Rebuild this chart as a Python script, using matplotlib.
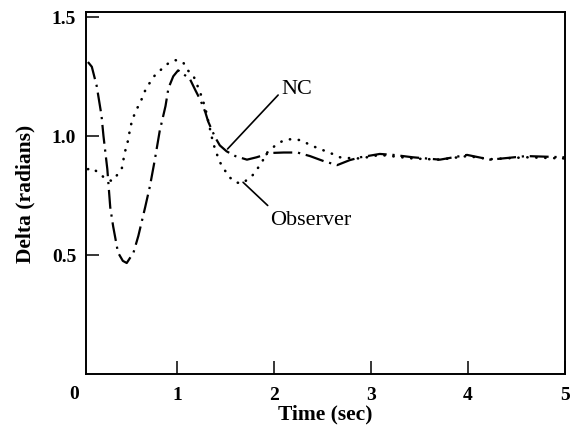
import matplotlib
matplotlib.use('Agg')
import matplotlib.pyplot as plt
import matplotlib.transforms as mtransforms

# Delta response, NC controller vs observer
t_nc = [0.08, 0.12, 0.17, 0.22, 0.24, 0.28, 0.31, 0.34, 0.39, 0.44, 0.48, 0.55,
        0.60, 0.67, 0.72, 0.77, 0.82, 0.88, 0.91, 0.96, 1.01, 1.13, 1.19, 1.24,
        1.29, 1.32, 1.39, 1.44, 1.51, 1.60, 1.72, 1.82, 1.96, 2.10, 2.24, 2.37,
        2.51, 2.65, 2.78, 2.89, 3.09, 3.23, 3.43, 3.71, 3.99, 4.23, 4.60, 5.00]
delta_nc = [1.31, 1.29, 1.21, 1.085, 1.00, 0.86, 0.70, 0.62, 0.51, 0.475, 0.466, 0.51,
            0.58, 0.70, 0.79, 0.90, 1.02, 1.125, 1.20, 1.25, 1.275, 1.24, 1.19, 1.15,
            1.10, 1.06, 0.995, 0.96, 0.935, 0.915, 0.90, 0.91, 0.928, 0.93, 0.93, 0.915,
            0.894, 0.877, 0.898, 0.91, 0.924, 0.92, 0.91, 0.90, 0.92, 0.90, 0.915, 0.91]

t_obs = [0.08, 0.12, 0.19, 0.26, 0.33, 0.38, 0.43, 0.46, 0.49, 0.52, 0.54, 0.58,
         0.62, 0.68, 0.73, 0.78, 0.84, 0.91, 0.98, 1.06, 1.11, 1.17, 1.21, 1.26,
         1.30, 1.36, 1.39, 1.44, 1.53, 1.60, 1.67, 1.77, 1.86, 1.93, 2.03, 2.11,
         2.20, 2.29, 2.35, 2.44, 2.58, 2.68, 2.75, 2.89, 3.09, 3.43, 3.71, 3.99,
         4.23, 4.60, 5.00]
delta_obs = [0.86, 0.865, 0.845, 0.82, 0.81, 0.835, 0.865, 0.93, 0.975, 1.04, 1.07, 1.11,
             1.14, 1.20, 1.23, 1.26, 1.28, 1.305, 1.318, 1.31, 1.275, 1.25, 1.21, 1.157,
             1.10, 0.99, 0.945, 0.89, 0.83, 0.805, 0.80, 0.83, 0.88, 0.93, 0.966, 0.983,
             0.987, 0.98, 0.966, 0.95, 0.928, 0.91, 0.907, 0.905, 0.92, 0.905, 0.90, 0.915,
             0.902, 0.91, 0.905]

xticks = [1, 2, 3, 4, 5]
yticks = [0.5, 1.0, 1.5]
ytick_labels = ['0.5', '1.0', '1.5']

plt.rcParams['font.family'] = ['Liberation Serif', 'DejaVu Serif']

fig = plt.figure(figsize=(5.7, 4.31), dpi=100)
ax = fig.add_axes([86 / 570, (431 - 375) / 431, (565 - 86) / 570, (375 - 13) / 431])

ax.plot(t_nc, delta_nc, color='black', lw=1.6, dashes=(8.5, 2.6, 1.0, 2.6))
ax.plot(t_obs, delta_obs, color='black', lw=1.9, linestyle=(0, (0.1, 3.3)),
        dash_capstyle='round')

ax.set_xlim(0.06, 5)
ax.set_ylim(0, 1.52)
ax.set_xticks(xticks)
ax.set_xticklabels([str(v) for v in xticks])
ax.set_yticks(yticks)
ax.set_yticklabels(ytick_labels)

ax.tick_params(direction='in', length=9.5, width=1.1, top=False, right=False,
               labelsize=14)
ax.tick_params(axis='x', pad=9)
ax.tick_params(axis='y', pad=7)
for lab in ax.get_xticklabels() + ax.get_yticklabels():
    lab.set_fontweight('bold')
for sp in ax.spines.values():
    sp.set_linewidth(1.4)

# origin label sits under the corner
trans = mtransforms.blended_transform_factory(ax.transData, ax.transAxes)
ax.text(-0.06, -0.055, '0', transform=trans, ha='center', va='center',
        fontsize=14, fontweight='bold', clip_on=False)

ax.set_xlabel('Time (sec)', fontsize=15.5, fontweight='bold', labelpad=0)
ax.set_ylabel('Delta (radians)', fontsize=15.5, fontweight='bold', labelpad=12)

ax.annotate('NC', xy=(1.52, 0.945), xytext=(2.08, 1.20), fontsize=16,
            ha='left', va='center',
            arrowprops=dict(arrowstyle='-', lw=1.2, color='black',
                            shrinkA=1, shrinkB=0, relpos=(0, 0.35)))
ax.annotate('Observer', xy=(1.68, 0.805), xytext=(1.96, 0.648), fontsize=16,
            ha='left', va='center',
            arrowprops=dict(arrowstyle='-', lw=1.2, color='black',
                            shrinkA=2, shrinkB=0, relpos=(0.03, 1.0)))

fig.savefig('out.png', dpi=100)
